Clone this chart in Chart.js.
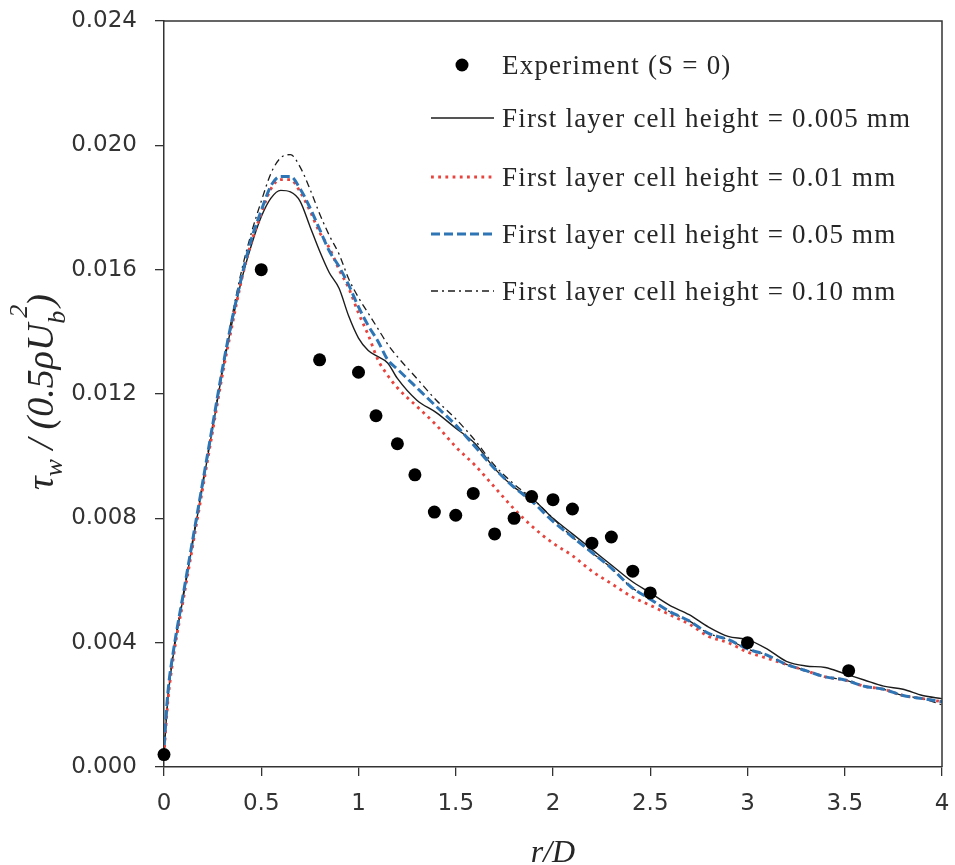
<!DOCTYPE html>
<html>
<head>
<meta charset="utf-8">
<script src="https://cdn.jsdelivr.net/npm/chart.js@4.4.1/dist/chart.umd.min.js"></script>
<style>
  html, body { margin: 0; padding: 0; background: #fff; }
</style>
</head>
<body>
<canvas id="wallShear" width="955" height="865"></canvas>
<script>
// Experiment, S = 0
const expR   = [0, 0.5, 0.8, 1.0, 1.09, 1.2, 1.29, 1.39, 1.5, 1.59, 1.7, 1.8, 1.89, 2.0, 2.1, 2.2, 2.3, 2.41, 2.5, 3.0, 3.52];
const expTau = [0.0004, 0.0160, 0.0131, 0.0127, 0.0113, 0.0104, 0.0094, 0.0082, 0.0081, 0.0088, 0.0075, 0.0080, 0.0087, 0.0086, 0.0083, 0.0072, 0.0074, 0.0063, 0.0056, 0.0040, 0.0031];

// CFD results, sampled on a shared r/D grid
const rD = [0, 0.02, 0.05, 0.1, 0.15, 0.2, 0.25, 0.3, 0.35, 0.4, 0.45, 0.5,
  0.55, 0.6, 0.65, 0.7, 0.75, 0.8, 0.85, 0.9, 0.95, 1.0, 1.05, 1.1, 1.15, 1.2,
  1.3, 1.4, 1.5, 1.6, 1.7, 1.8, 1.9, 2.0, 2.1, 2.2, 2.3, 2.4, 2.5, 2.6, 2.7, 2.8, 2.9,
  3.0, 3.1, 3.2, 3.3, 3.4, 3.5, 3.6, 3.7, 3.8, 3.9, 4.0];

const tauH0005 = [0.0004, 0.0022, 0.0037, 0.0055, 0.0073, 0.0091, 0.0109, 0.0127, 0.0143, 0.0157, 0.0168, 0.0177,
  0.0183, 0.01855, 0.0185, 0.0182, 0.0174, 0.0166, 0.0159, 0.0154, 0.0145, 0.0138, 0.0134, 0.0132, 0.0130, 0.0125,
  0.0118, 0.0114, 0.0109, 0.0104, 0.0096, 0.0090, 0.0086, 0.0080, 0.0075, 0.0070, 0.0065, 0.0060, 0.0056, 0.0052,
  0.0049, 0.0045, 0.0042, 0.0041, 0.0038, 0.0034, 0.00325, 0.0032, 0.0030, 0.0028, 0.0026, 0.0025, 0.0023, 0.0022];

const tauH001 = [0.0004, 0.0021, 0.0036, 0.0054, 0.0072, 0.0090, 0.0108, 0.0126, 0.0142, 0.0157, 0.0169, 0.0178,
  0.0186, 0.0189, 0.0189, 0.0185, 0.0179, 0.0172, 0.0167, 0.0160, 0.0154, 0.0146, 0.0139, 0.0131, 0.0126, 0.0122,
  0.0116, 0.0110, 0.0103, 0.0097, 0.0090, 0.0083, 0.0077, 0.0072, 0.0068, 0.0063, 0.0059, 0.0055, 0.0052, 0.0049,
  0.0046, 0.0042, 0.0040, 0.0037, 0.0035, 0.0033, 0.0031, 0.0029, 0.0028, 0.0026, 0.0025, 0.0023, 0.0022, 0.0021];

const tauH005 = [0.0007, 0.0024, 0.0038, 0.0056, 0.0074, 0.0092, 0.0110, 0.0128, 0.0144, 0.0158, 0.0170, 0.0179,
  0.0187, 0.0190, 0.0190, 0.0186, 0.0180, 0.0173, 0.0166, 0.0161, 0.0155, 0.0148, 0.0142, 0.0137, 0.0131, 0.0128,
  0.0122, 0.0116, 0.0110, 0.0103, 0.0096, 0.0090, 0.0085, 0.0079, 0.0074, 0.0069, 0.0064, 0.0058, 0.0054, 0.0050,
  0.0047, 0.0043, 0.0041, 0.0038, 0.0036, 0.0033, 0.0031, 0.0029, 0.0028, 0.0026, 0.0025, 0.0023, 0.0022, 0.0021];

const tauH010 = [0.0006, 0.0023, 0.0038, 0.0056, 0.0074, 0.0092, 0.0110, 0.0128, 0.0145, 0.0160, 0.0172, 0.0182,
  0.0191, 0.0196, 0.0197, 0.0193, 0.0186, 0.0178, 0.0171, 0.0165, 0.0157, 0.0151, 0.0146, 0.0141, 0.0136, 0.0132,
  0.0125, 0.0118, 0.0112, 0.0105, 0.0097, 0.0091, 0.0086, 0.0080, 0.0074, 0.0069, 0.0064, 0.0058, 0.0054, 0.0050,
  0.0047, 0.0043, 0.0041, 0.0038, 0.0036, 0.0033, 0.0031, 0.0029, 0.0028, 0.0026, 0.0025, 0.0023, 0.0022, 0.0020];

// legend order
const seriesNames = [
  'Experiment (S = 0)',
  'First layer cell height = 0.005 mm',
  'First layer cell height = 0.01 mm',
  'First layer cell height = 0.05 mm',
  'First layer cell height = 0.10 mm'
];

const xTicks = [0, 0.5, 1, 1.5, 2, 2.5, 3, 3.5, 4];
const yTicks = [0, 0.004, 0.008, 0.012, 0.016, 0.020, 0.024];

function toPoints(xs, ys) {
  return xs.map((x, i) => ({ x: x, y: ys[i] }));
}

const SERIF = '"Liberation Serif", "Times New Roman", serif';
const SANS = '"DejaVu Sans", sans-serif';
const INK = '#262626';

// legend block + y title with sub/superscripts + closing frame
const decorPlugin = {
  id: 'decor',
  afterDraw(chart) {
    const ctx = chart.ctx;
    const area = chart.chartArea;

    ctx.save();
    ctx.strokeStyle = '#333';
    ctx.lineWidth = 1.5;
    ctx.beginPath();
    ctx.moveTo(area.left, area.top);
    ctx.lineTo(area.right, area.top);
    ctx.lineTo(area.right, area.bottom);
    ctx.stroke();
    ctx.restore();

    // legend
    const rows = [65, 118, 177, 234, 291];
    const textX = 502;
    ctx.save();
    ctx.font = '27px ' + SERIF;
    ctx.textBaseline = 'middle';
    if ('letterSpacing' in ctx) ctx.letterSpacing = '1.2px';
    seriesNames.forEach((name, i) => {
      const ds = chart.data.datasets.find(d => d.label === name);
      const y = rows[i];
      if (i === 0) {
        ctx.beginPath();
        ctx.arc(462, y, 6.5, 0, Math.PI * 2);
        ctx.fillStyle = ds.backgroundColor;
        ctx.fill();
      } else {
        ctx.save();
        ctx.strokeStyle = ds.borderColor;
        ctx.lineWidth = ds.borderWidth;
        ctx.setLineDash(ds.borderDash || []);
        ctx.beginPath();
        ctx.moveTo(431, y);
        ctx.lineTo(494, y);
        ctx.stroke();
        ctx.restore();
      }
      ctx.fillStyle = INK;
      ctx.fillText(name, textX, y + 2);
    });
    ctx.restore();

    // y-axis title: tau_w / (0.5 rho U_b^2)
    const big = 'italic 38px ' + SERIF;
    const small = 'italic 26px ' + SERIF;
    const parts = [
      { t: '\u03C4', f: big, dy: 0 },
      { t: 'w', f: small, dy: 9 },
      { t: ' / (0.5', f: big, dy: 0 },
      { t: '\u03C1', f: big, dy: 0 },
      { t: 'U', f: big, dy: 0 },
      { t: 'b', f: small, dy: 12, stack: { t: '2', dy: -26 } },
      { t: ')', f: big, dy: 0 }
    ];
    ctx.save();
    ctx.fillStyle = INK;
    ctx.textBaseline = 'alphabetic';
    let total = 0;
    parts.forEach(p => {
      ctx.font = p.f;
      p.w = ctx.measureText(p.t).width;
      if (p.stack) p.w = Math.max(p.w, ctx.measureText(p.stack.t).width) + 4;
      total += p.w;
    });
    ctx.translate(53, 392);
    ctx.rotate(-Math.PI / 2);
    let cx = -total / 2;
    parts.forEach(p => {
      ctx.font = p.f;
      ctx.fillText(p.t, cx, p.dy);
      if (p.stack) ctx.fillText(p.stack.t, cx + 6, p.stack.dy);
      cx += p.w;
    });
    ctx.restore();
  }
};

new Chart(document.getElementById('wallShear'), {
  type: 'scatter',
  data: {
    // first dataset is painted last (on top)
    datasets: [
      {
        label: seriesNames[0],
        data: toPoints(expR, expTau),
        showLine: false,
        pointRadius: 6.5,
        pointHoverRadius: 6.5,
        backgroundColor: '#000',
        borderColor: '#000',
        borderWidth: 0,
        clip: false
      },
      {
        label: seriesNames[3],
        data: toPoints(rD, tauH005),
        showLine: true,
        pointRadius: 0,
        borderColor: '#2e75b6',
        borderWidth: 3,
        borderDash: [9, 4],
        cubicInterpolationMode: 'monotone'
      },
      {
        label: seriesNames[2],
        data: toPoints(rD, tauH001),
        showLine: true,
        pointRadius: 0,
        borderColor: '#e8433c',
        borderWidth: 2.8,
        borderDash: [2.8, 4.4],
        cubicInterpolationMode: 'monotone'
      },
      {
        label: seriesNames[1],
        data: toPoints(rD, tauH0005),
        showLine: true,
        pointRadius: 0,
        borderColor: '#1c1c1c',
        borderWidth: 1.4,
        cubicInterpolationMode: 'monotone'
      },
      {
        label: seriesNames[4],
        data: toPoints(rD, tauH010),
        showLine: true,
        pointRadius: 0,
        borderColor: '#1c1c1c',
        borderWidth: 1.3,
        borderDash: [7, 4, 2, 4],
        cubicInterpolationMode: 'monotone'
      }
    ]
  },
  options: {
    responsive: false,
    animation: false,
    devicePixelRatio: 1,
    layout: { padding: { top: 21, right: 13, bottom: 0, left: 0 } },
    plugins: {
      legend: { display: false },
      tooltip: { enabled: false }
    },
    scales: {
      x: {
        type: 'linear',
        min: xTicks[0],
        max: xTicks[xTicks.length - 1],
        afterBuildTicks(scale) {
          scale.ticks = xTicks.map(v => ({ value: v }));
        },
        afterFit(scale) {
          scale.height = 98;
          scale.paddingLeft = 0;
          scale.paddingRight = 0;
        },
        grid: { drawOnChartArea: false, drawTicks: true, tickLength: 9, color: '#333', lineWidth: 1.3 },
        border: { color: '#333', width: 1.5 },
        ticks: {
          padding: 14,
          color: '#333',
          font: { family: SANS, size: 23 },
          callback: v => String(v)
        },
        title: {
          display: true,
          text: 'r/D',
          color: INK,
          font: { family: SERIF, size: 32, style: 'italic' },
          padding: { top: 0, bottom: -8 }
        }
      },
      y: {
        type: 'linear',
        min: yTicks[0],
        max: yTicks[yTicks.length - 1],
        afterBuildTicks(scale) {
          scale.ticks = yTicks.map(v => ({ value: v }));
        },
        afterFit(scale) {
          scale.width = 164;
          scale.paddingTop = 0;
          scale.paddingBottom = 0;
        },
        grid: { drawOnChartArea: false, drawTicks: true, tickLength: 9, color: '#333', lineWidth: 1.3 },
        border: { color: '#333', width: 1.5 },
        ticks: {
          padding: 18,
          color: '#333',
          font: { family: SANS, size: 23 },
          callback: v => v.toFixed(3)
        }
      }
    }
  },
  plugins: [decorPlugin]
});
</script>
</body>
</html>
